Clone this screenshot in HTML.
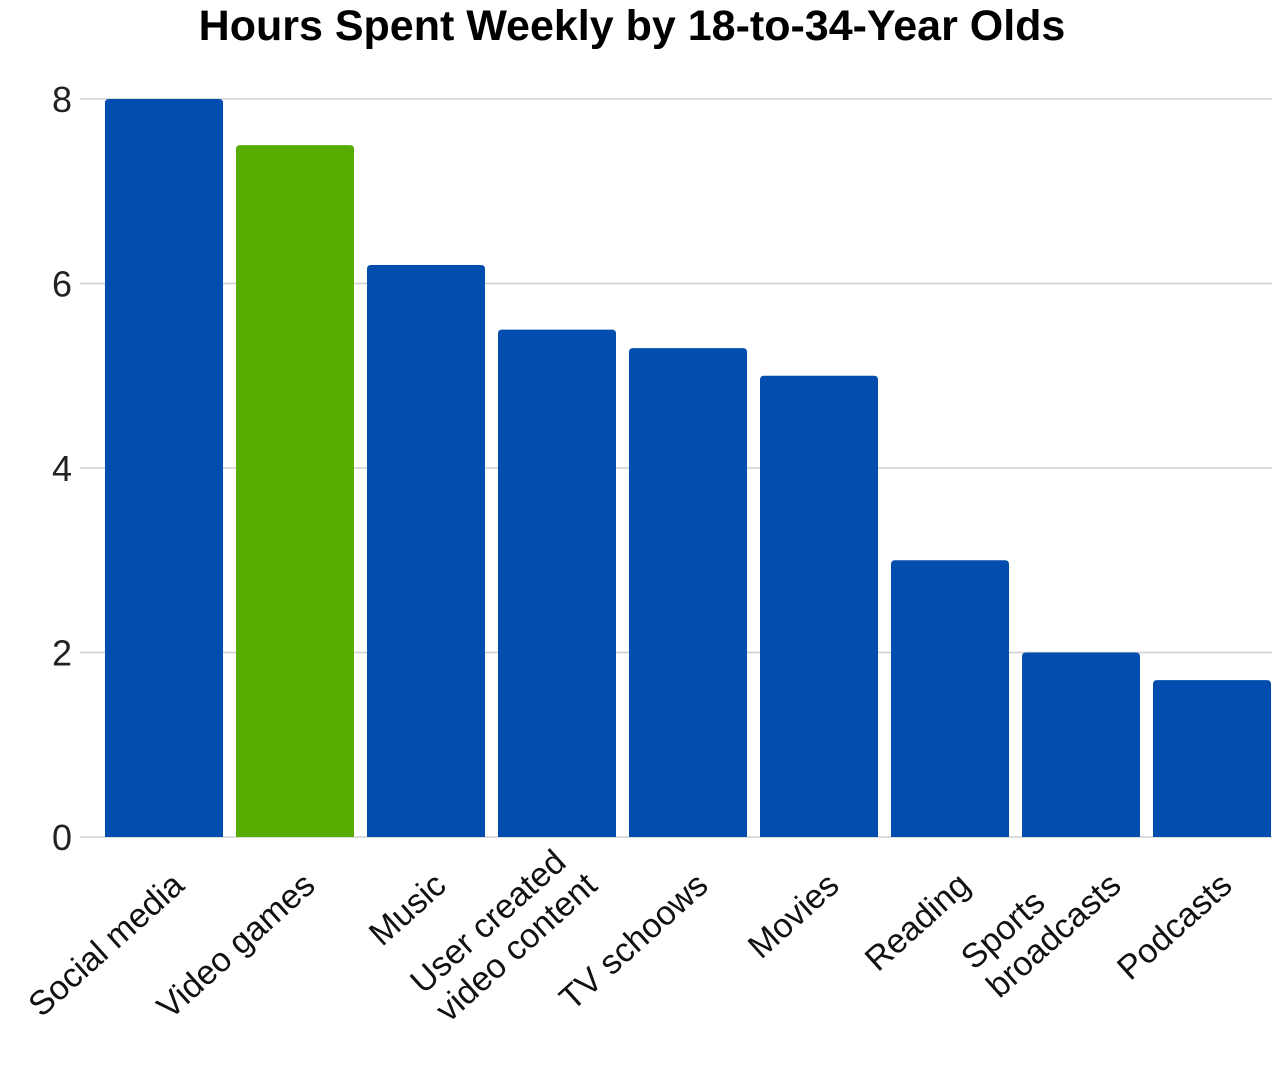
<!DOCTYPE html>
<html><head><meta charset="utf-8"><style>
html,body{margin:0;padding:0;background:#fff;}
svg{display:block;font-family:"Liberation Sans",sans-serif;}
</style></head><body>
<svg id="chart" width="1280" height="1080" viewBox="0 0 1280 1080">
<text x="632" y="40" text-anchor="middle" font-size="43" font-weight="bold" fill="#000">Hours Spent Weekly by 18-to-34-Year Olds</text>
<g id="grid"></g><g id="bars"></g><g id="xlabels"></g>
</svg>
<script>
const categories = [["Social media"],["Video games"],["Music"],["User created","video content"],["TV schoows"],["Movies"],["Reading"],["Sports","broadcasts"],["Podcasts"]];
const values = [8, 7.5, 6.2, 5.5, 5.3, 5.0, 3.0, 2.0, 1.7];
const highlight = [false, true, false, false, false, false, false, false, false];
const yTicks = [0, 2, 4, 6, 8];
const NS = "http://www.w3.org/2000/svg";
const y0 = 837, yMax = 8, plotTop = 99;
const y = v => y0 - (v / yMax) * (y0 - plotTop);
const xStart = 105, step = 131, bw = 118;
const x = i => xStart + i * step;
const grid = document.getElementById('grid');
yTicks.forEach(t => {
  const l = document.createElementNS(NS, 'line');
  l.setAttribute('x1', 80); l.setAttribute('x2', 1272);
  l.setAttribute('y1', y(t)); l.setAttribute('y2', y(t));
  l.setAttribute('stroke', '#cfcfcf'); l.setAttribute('stroke-width', 1.5);
  
  
  grid.appendChild(l);
  const tx = document.createElementNS(NS, 'text');
  tx.setAttribute('x', 62); tx.setAttribute('y', y(t) + 13);
  tx.setAttribute('text-anchor', 'middle'); tx.setAttribute('font-size', 36); tx.setAttribute('fill', '#222');
  tx.textContent = t;
  
  
  grid.appendChild(tx);
});
const bars = document.getElementById('bars');
values.forEach((v, i) => {
  const top = y(v), h = y0 - top, r = 4;
  const p = document.createElementNS(NS, 'path');
  const L = x(i), R = x(i) + bw;
  p.setAttribute('d', `M${L},${y0} L${L},${top + r} Q${L},${top} ${L + r},${top} L${R - r},${top} Q${R},${top} ${R},${top + r} L${R},${y0} Z`);
  p.setAttribute('fill', highlight[i] ? '#57ac00' : '#024dae');
  
  
  bars.appendChild(p);
});
const xl = document.getElementById('xlabels');
categories.forEach((lines, i) => {
  const cx = x(i) + bw / 2;
  const g = document.createElementNS(NS, 'g');
  const ax = cx + (lines.length > 1 ? 42 : 22), ay = 888;
  g.setAttribute('transform', `translate(${ax},${ay}) rotate(-42)`);
  
  
  xl.appendChild(g);
  const texts = lines.map((s, j) => {
    const t = document.createElementNS(NS, 'text');
    t.setAttribute('font-size', 34); t.setAttribute('fill', '#111');
    t.setAttribute('y', (j - (lines.length - 1)) * 38);
    t.textContent = s;
    g.appendChild(t);
    return t;
  });
  const maxLen = Math.max(...texts.map(t => t.getComputedTextLength()));
  texts.forEach(t => t.setAttribute('x', -maxLen));
});
</script>
</body></html>
